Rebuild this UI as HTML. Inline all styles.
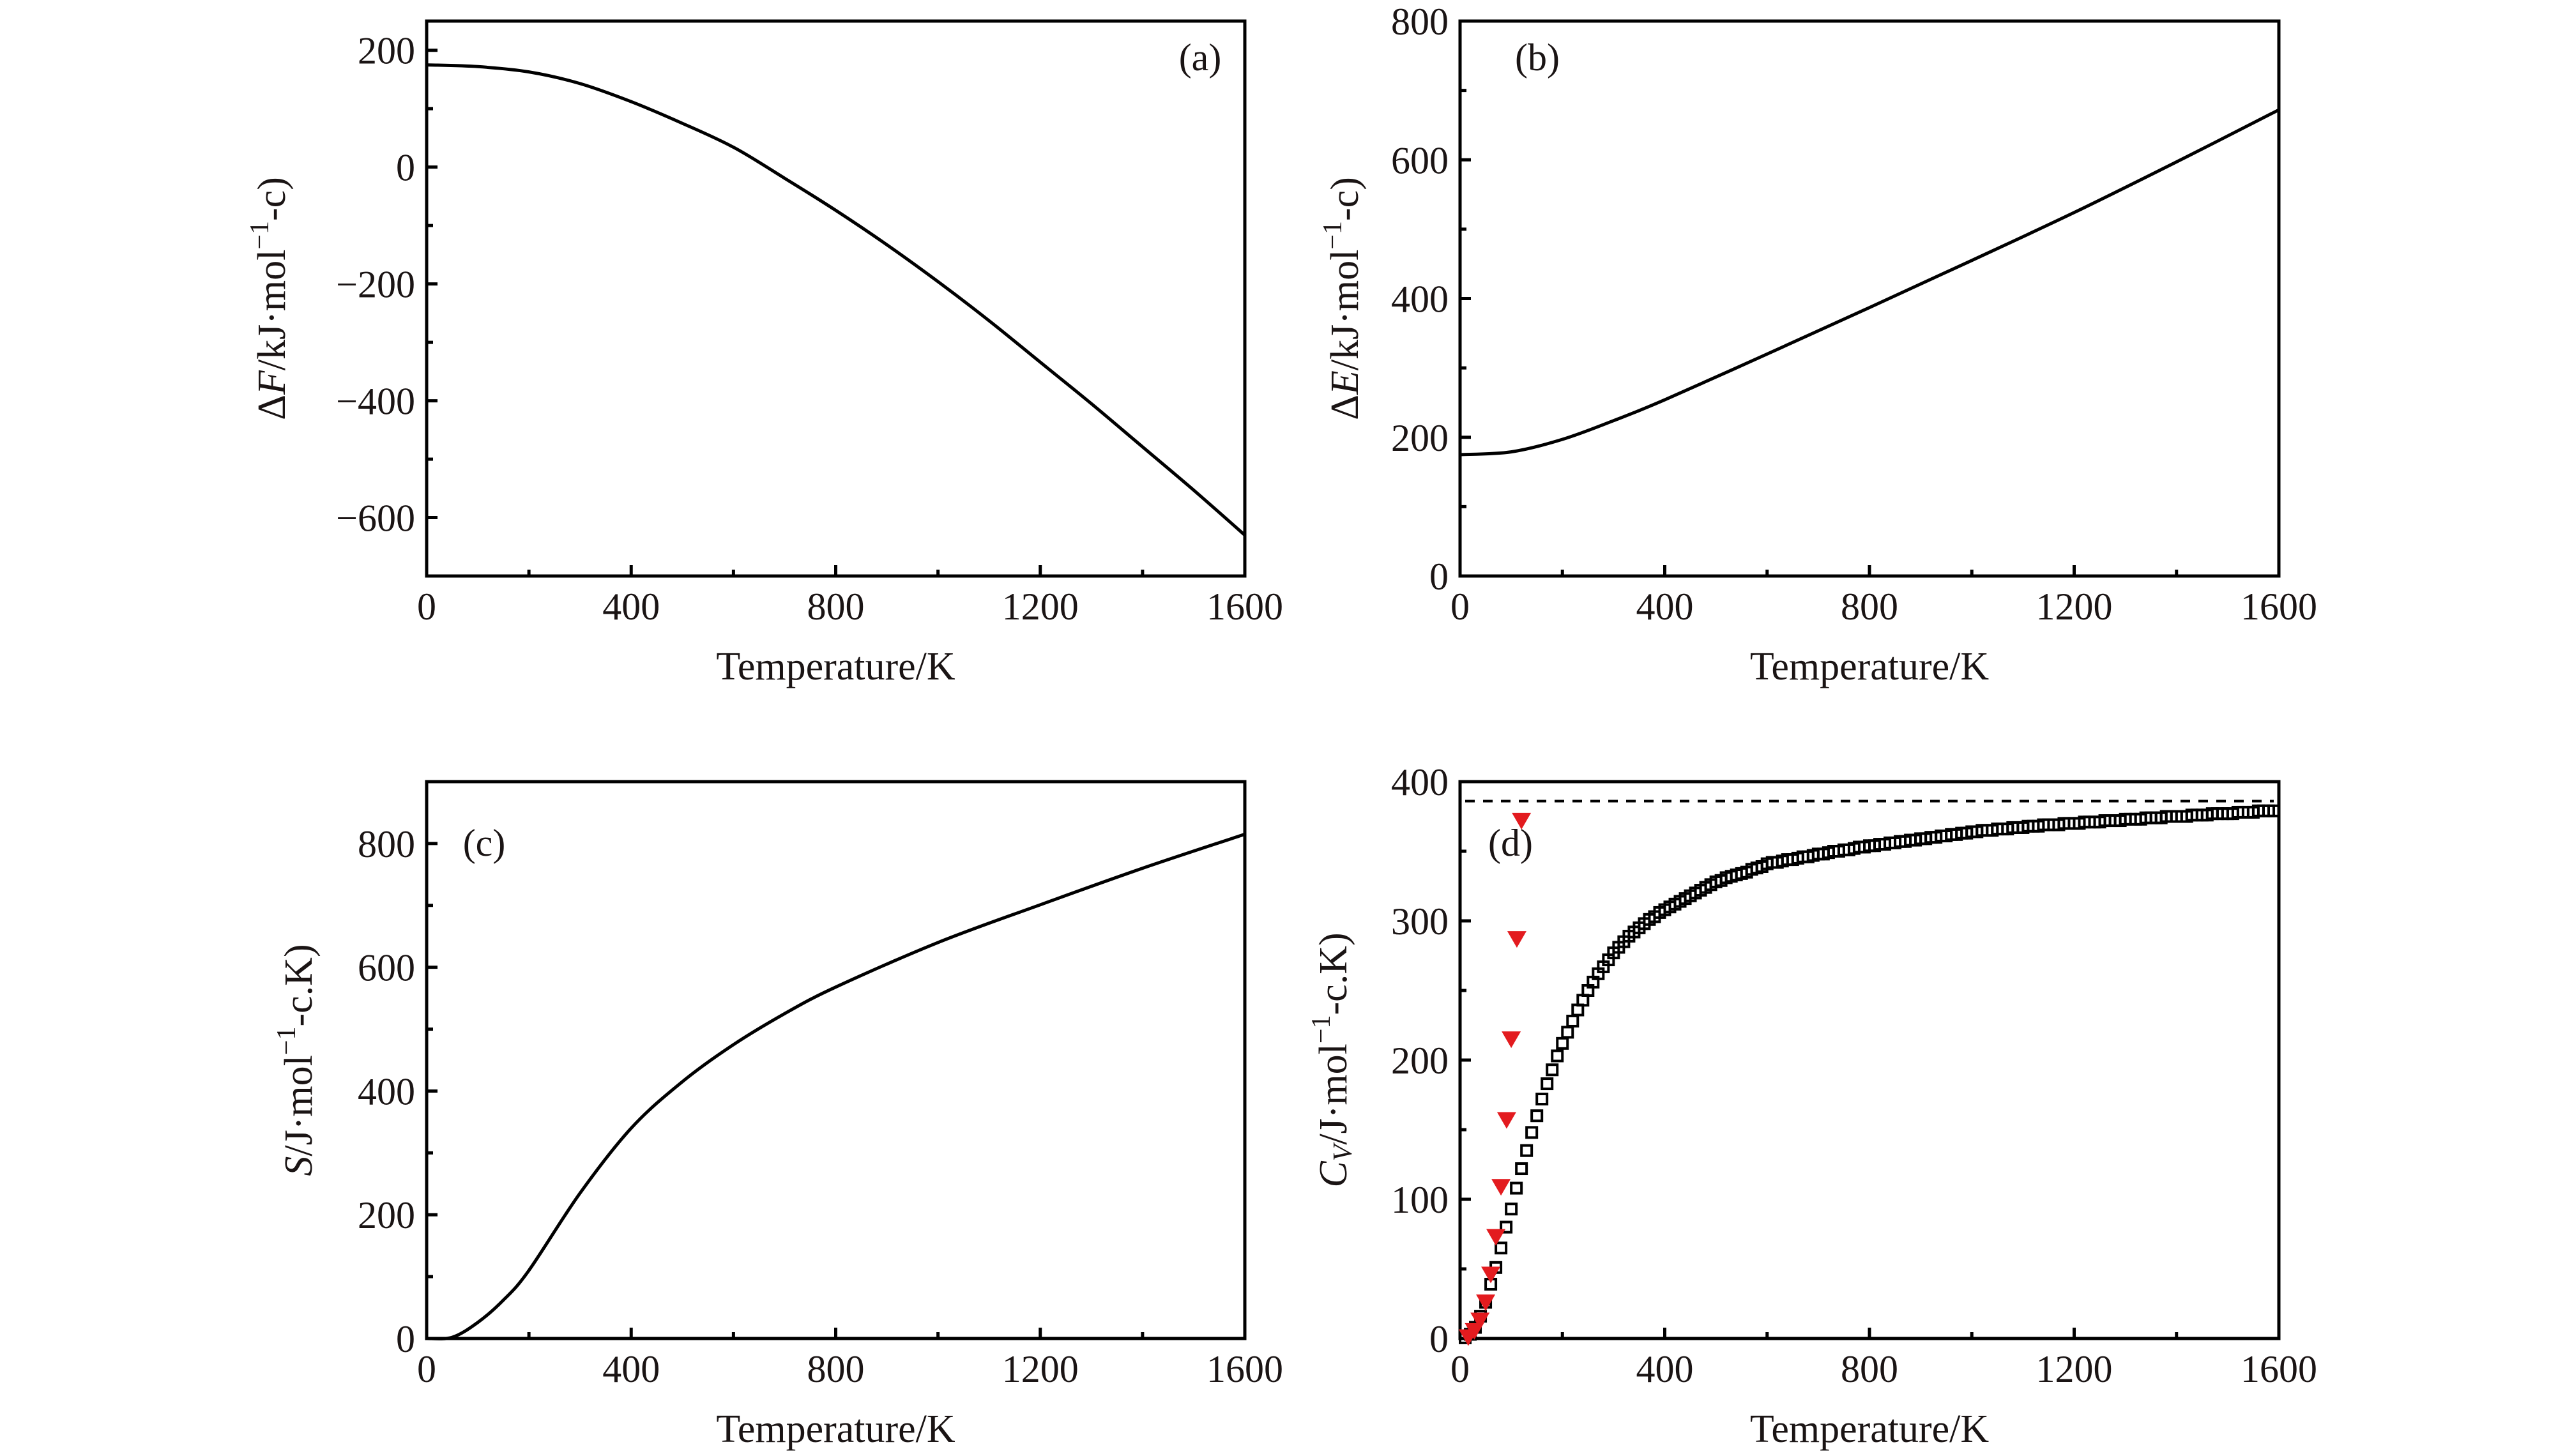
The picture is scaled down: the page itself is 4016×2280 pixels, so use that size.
<!DOCTYPE html>
<html><head><meta charset="utf-8"><style>
html,body{margin:0;padding:0;background:#fff}
svg{display:block;font-family:"Liberation Serif",serif}
</style></head><body>
<svg id="chart" width="4016" height="2280" viewBox="0 0 4016 2280" xmlns="http://www.w3.org/2000/svg"></svg>
<script>
// ---- data ----
const tempA = [0,100,200,300,400,500,600,700,800,900,1000,1100,1200,1300,1400,1500,1600];
const freeEnergy = [175,172,163,143,112,75,34,-19,-74,-133,-196,-263,-334,-405,-479,-553,-630];
const tempB = [0,100,200,300,400,600,800,1000,1200,1400,1600];
const internalEnergy = [175,179,197,224,254,320,387,455,524,597,672];
const tempC = [0,50,100,150,200,300,400,500,600,700,800,1000,1200,1400,1600];
const entropy = [0,2,26,62,110,235,340,415,475,525,568,640,701,760,815];
const cvCalc = [0.5,3,8,16,26,39,51,65,80,93,108,122,135,148,160,172,183,193,203,212,220,228,236,243,250,256,262,267,272,277,281,285,289,292,295,298,301,303,306,308,
310,312,314,316,318,320,322,324,326,328,329,331,332,333,334,335,337,338,339,341,
342,342,343,344,344,345,346,346,347,348,348,349,350,350,351,351,352,353,353,354,
354,355,355,356,356,357,357,358,358,359,359,360,360,361,361,362,362,363,363,364,
364,365,365,365,366,366,366,367,367,367,368,368,368,369,369,369,369,370,370,370,
370,371,371,371,371,372,372,372,372,373,373,373,373,374,374,374,374,375,375,375,
375,375,376,376,376,376,377,377,377,377,377,378,378,378,378,379,379,379,379];
const cvTempStep = 10;
const expTemp = [16,28,39,50,60,70,80,91,100,111,120];
const expCv = [2,6.5,14,27,47,74,110,158,216,288,373];
const dulongPetit = 386;
const xTicks = [0,400,800,1200,1600];

const svg = document.getElementById('chart');
const NS = 'http://www.w3.org/2000/svg';
function mk(tag, attrs, parent){const e=document.createElementNS(NS,tag);for(const k in attrs)e.setAttribute(k,attrs[k]);(parent||svg).appendChild(e);return e;}

function panel(cfg){
  const g = mk('g',{});
  
  
  const {x0,x1,y0,y1,ymin,ymax} = cfg;
  const sx = v => x0 + (v-0)/(1600-0)*(x1-x0);
  const sy = v => y1 - (v-ymin)/(ymax-ymin)*(y1-y0);
  cfg.sx=sx; cfg.sy=sy; cfg.g=g;
  for(let t=0;t<=1600;t+=200){
    const major = t%400===0;
    const tk = mk('line',{x1:sx(t),x2:sx(t),y1:y1,y2:y1-(major?17:10),stroke:'#000','stroke-width':5},g);
    
    
  }
  xTicks.forEach(t=>{
    const tx = mk('text',{x:sx(t),y:y1+68,'text-anchor':'middle','font-size':60,fill:'#1a1414'},g);
    tx.textContent = t;
    
    
  });
  for(let v=cfg.ymin; v<=cfg.ymax+1e-6; v+=cfg.minor){
    const major = Math.abs((v - cfg.majorBase) % cfg.major) < 1e-6;
    const tk = mk('line',{x1:x0,x2:x0+(major?17:10),y1:sy(v),y2:sy(v),stroke:'#000','stroke-width':5},g);
    
    
  }
  cfg.yLabels.forEach(v=>{
    const tx = mk('text',{x:x0-18,y:sy(v)+21,'text-anchor':'end','font-size':60,fill:'#1a1414'},g);
    tx.textContent = v<0 ? '\u2212'+(-v) : v;
    
    
  });
  const fr = mk('rect',{x:x0,y:y0,width:x1-x0,height:y1-y0,fill:'none',stroke:'#000','stroke-width':5},g);
  
  
  const xt = mk('text',{x:(x0+x1)/2,y:y1+162,'text-anchor':'middle','font-size':62,fill:'#1a1414'},g);
  xt.textContent='Temperature/K';
  
  
  const cy=(y0+y1)/2;
  const yt = mk('text',{x:cfg.titleX,y:cy,'text-anchor':'middle','font-size':62,fill:'#1a1414',transform:`rotate(-90 ${cfg.titleX} ${cy})`,'dominant-baseline':'middle'},g);
  yt.innerHTML = cfg.title;
  
  
  const pl = mk('text',{x:cfg.lx,y:cfg.ly,'text-anchor':'middle','font-size':60,fill:'#1a1414'},g);
  pl.textContent = cfg.label;
  
  
  return cfg;
}
function curve(cfg, xs, ys, name){
  const P = xs.map((t,i)=>[cfg.sx(t), cfg.sy(ys[i])]);
  let d = 'M'+P[0][0].toFixed(1)+','+P[0][1].toFixed(1);
  for(let i=0;i<P.length-1;i++){
    const p0=P[Math.max(0,i-1)], p1=P[i], p2=P[i+1], p3=P[Math.min(P.length-1,i+2)];
    const c1=[p1[0]+(p2[0]-p0[0])/6, p1[1]+(p2[1]-p0[1])/6];
    const c2=[p2[0]-(p3[0]-p1[0])/6, p2[1]-(p3[1]-p1[1])/6];
    d+=`C${c1[0].toFixed(1)},${c1[1].toFixed(1)} ${c2[0].toFixed(1)},${c2[1].toFixed(1)} ${p2[0].toFixed(1)},${p2[1].toFixed(1)}`;
  }
  const p = mk('path',{d:d,fill:'none',stroke:'#000','stroke-width':5,'stroke-linejoin':'round'},cfg.g);
  
  
}

const sup = '<tspan font-size="42" dy="-22">\u22121</tspan><tspan dy="22">';
const A = panel({name:'panel-a-free-energy',x0:668,x1:1949,y0:33,y1:902,ymin:-700,ymax:250,minor:100,major:200,majorBase:0,
  yLabels:[200,0,-200,-400,-600],titleX:432,lx:1879,ly:110,label:'(a)',
  title:'\u0394<tspan font-style="italic">F</tspan>/kJ\u00b7mol'+sup+'-c)</tspan>'});
curve(A,tempA,freeEnergy,'free-energy-line');
const B = panel({name:'panel-b-internal-energy',x0:2286,x1:3568,y0:33,y1:902,ymin:0,ymax:800,minor:100,major:200,majorBase:0,
  yLabels:[0,200,400,600,800],titleX:2112,lx:2407,ly:110,label:'(b)',
  title:'\u0394<tspan font-style="italic">E</tspan>/kJ\u00b7mol'+sup+'-c)</tspan>'});
curve(B,tempB,internalEnergy,'internal-energy-line');
const C = panel({name:'panel-c-entropy',x0:668,x1:1949,y0:1224,y1:2096,ymin:0,ymax:900,minor:100,major:200,majorBase:0,
  yLabels:[0,200,400,600,800],titleX:474,lx:758,ly:1340,label:'(c)',
  title:'<tspan font-style="italic">S</tspan>/J\u00b7mol'+sup+'-c.K)</tspan>'});
curve(C,tempC,entropy,'entropy-line');
const D = panel({name:'panel-d-heat-capacity',x0:2286,x1:3568,y0:1224,y1:2096,ymin:0,ymax:400,minor:50,major:100,majorBase:0,
  yLabels:[0,100,200,300,400],titleX:2094,lx:2365,ly:1340,label:'(d)',
  title:'<tspan font-style="italic">C</tspan><tspan font-style="italic" font-size="42" dy="12">V</tspan><tspan dy="-12">/J\u00b7mol</tspan>'+sup+'-c.K)</tspan>'});
const dl = mk('line',{x1:D.sx(0)+8,x2:D.sx(1600)-8,y1:D.sy(dulongPetit),y2:D.sy(dulongPetit),stroke:'#000','stroke-width':4,'stroke-dasharray':'15 13'},D.g);


cvCalc.forEach((v,i)=>{
  const t=(i+1)*cvTempStep;
  const r = mk('rect',{x:D.sx(t)-8,y:D.sy(v)-8,width:16,height:16,fill:'none',stroke:'#000','stroke-width':4},D.g);
  
  
});
expTemp.forEach((t,i)=>{
  const cx=D.sx(t), cy=D.sy(expCv[i]);
  const p = mk('polygon',{points:`${cx-15},${cy-10} ${cx+15},${cy-10} ${cx},${cy+16}`,fill:'#e31b1f'},D.g);
  
  
});
</script>
</body></html>
